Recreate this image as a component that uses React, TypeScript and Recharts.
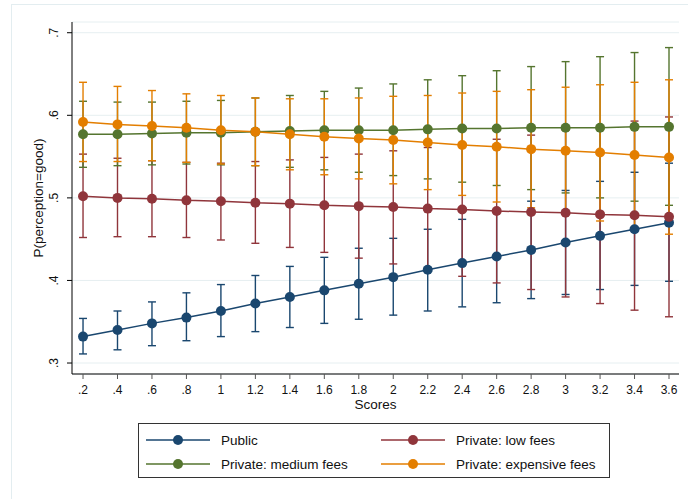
import { ComposedChart, Line, ErrorBar, XAxis, YAxis, CartesianGrid } from 'recharts'

const scores = [0.2, 0.4, 0.6, 0.8, 1, 1.2, 1.4, 1.6, 1.8, 2, 2.2, 2.4, 2.6, 2.8, 3, 3.2, 3.4, 3.6]
const yTicks = [0.3, 0.4, 0.5, 0.6, 0.7]

// Public
const publicMean = [0.332, 0.340, 0.348, 0.355, 0.363, 0.372, 0.380, 0.388, 0.396, 0.404, 0.413, 0.421, 0.429, 0.437, 0.446, 0.454, 0.462, 0.470]
const publicLow = [0.311, 0.316, 0.321, 0.327, 0.332, 0.338, 0.343, 0.348, 0.353, 0.358, 0.363, 0.368, 0.373, 0.378, 0.383, 0.389, 0.394, 0.399]
const publicHigh = [0.354, 0.363, 0.374, 0.385, 0.395, 0.406, 0.417, 0.428, 0.439, 0.451, 0.462, 0.474, 0.485, 0.496, 0.509, 0.520, 0.531, 0.542]

// Private: low fees
const lowMean = [0.502, 0.500, 0.499, 0.497, 0.496, 0.494, 0.493, 0.491, 0.490, 0.489, 0.487, 0.486, 0.484, 0.483, 0.482, 0.480, 0.479, 0.477]
const lowLow = [0.452, 0.453, 0.453, 0.452, 0.449, 0.445, 0.440, 0.434, 0.427, 0.420, 0.413, 0.405, 0.397, 0.389, 0.380, 0.372, 0.364, 0.356]
const lowHigh = [0.553, 0.548, 0.545, 0.543, 0.542, 0.544, 0.546, 0.549, 0.553, 0.557, 0.561, 0.566, 0.571, 0.576, 0.582, 0.587, 0.593, 0.598]

// Private: medium fees
const medMean = [0.577, 0.577, 0.578, 0.579, 0.579, 0.580, 0.581, 0.582, 0.582, 0.582, 0.583, 0.584, 0.584, 0.585, 0.585, 0.585, 0.586, 0.586]
const medLow = [0.537, 0.539, 0.540, 0.541, 0.540, 0.539, 0.537, 0.534, 0.531, 0.527, 0.523, 0.519, 0.515, 0.510, 0.506, 0.500, 0.496, 0.491]
const medHigh = [0.617, 0.616, 0.616, 0.617, 0.618, 0.621, 0.624, 0.629, 0.633, 0.638, 0.643, 0.648, 0.654, 0.659, 0.665, 0.671, 0.676, 0.682]

// Private: expensive fees
const expMean = [0.592, 0.589, 0.587, 0.585, 0.582, 0.580, 0.577, 0.574, 0.572, 0.570, 0.567, 0.564, 0.562, 0.559, 0.557, 0.555, 0.552, 0.549]
const expLow = [0.544, 0.544, 0.545, 0.543, 0.541, 0.539, 0.534, 0.528, 0.523, 0.517, 0.510, 0.503, 0.495, 0.488, 0.480, 0.472, 0.464, 0.456]
const expHigh = [0.640, 0.635, 0.630, 0.626, 0.624, 0.621, 0.620, 0.620, 0.621, 0.623, 0.624, 0.627, 0.629, 0.631, 0.634, 0.637, 0.640, 0.643]

const series = [
  { key: 'pub', name: 'Public', color: '#1a476f', mean: publicMean, low: publicLow, high: publicHigh },
  { key: 'low', name: 'Private: low fees', color: '#90353b', mean: lowMean, low: lowLow, high: lowHigh },
  { key: 'med', name: 'Private: medium fees', color: '#55752f', mean: medMean, low: medLow, high: medHigh },
  { key: 'exp', name: 'Private: expensive fees', color: '#e37e00', mean: expMean, low: expLow, high: expHigh },
]

const data = scores.map((score, i) => {
  const row: Record<string, any> = { score }
  series.forEach((s) => {
    row[s.key] = s.mean[i]
    row[s.key + 'Err'] = [s.mean[i] - s.low[i], s.high[i] - s.mean[i]]
  })
  return row
})

const FONT = '"Liberation Sans", Arial, sans-serif'

const fmt = (v: number) => {
  const s = String(Math.round(v * 10) / 10)
  return s.startsWith('0') ? s.slice(1) : s
}

const XTick = (props: any) => {
  const { x, y, payload } = props
  return (
    <text x={x} y={y + 15} textAnchor="middle" fontSize={12} fontFamily={FONT} fill="#111">
      {fmt(payload.value)}
    </text>
  )
}

const YTick = (props: any) => {
  const { x, y, payload } = props
  const bx = x - 9
  return (
    <text x={bx} y={y} transform={`rotate(-90, ${bx}, ${y})`} textAnchor="middle" fontSize={12} fontFamily={FONT} fill="#111">
      {fmt(payload.value)}
    </text>
  )
}

export default function App() {
  return (
    <div style={{ position: 'fixed', left: 0, top: 0, width: 688, height: 499, background: '#fff', overflow: 'hidden' }}>
      <div style={{ position: 'absolute', left: 11, top: 4, width: 700, height: 520, borderLeft: '1px solid #e3edf0', borderTop: '1px solid #e3edf0' }} />
      <ComposedChart width={688} height={499} data={data} margin={{ top: 22, right: 9, bottom: 85, left: 0 }}>
        <CartesianGrid vertical={false} stroke="#e6eff1" strokeWidth={1} />
        <XAxis
          dataKey="score"
          type="number"
          domain={[0.136, 3.658]}
          ticks={scores}
          allowDataOverflow
          height={40}
          tickSize={5}
          tickMargin={0}
          stroke="#000"
          tickLine={{ stroke: '#555' }}
          tick={<XTick />}
          label={{ value: 'Scores', position: 'insideBottom', offset: 5, fontSize: 13.5, fontFamily: FONT, fill: '#111' }}
        />
        <YAxis
          type="number"
          domain={[0.2867, 0.713]}
          ticks={yTicks}
          allowDataOverflow
          width={72}
          tickSize={5}
          tickMargin={0}
          stroke="#000"
          tick={<YTick />}
          label={{ value: 'P(perception=good)', angle: -90, position: 'insideLeft', offset: 38, fontSize: 13.5, fontFamily: FONT, fill: '#111', style: { textAnchor: 'middle' } }}
        />
        {series.map((s) => (
          <Line
            key={s.key + 'ci'}
            dataKey={s.key}
            stroke="none"
            dot={false}
            activeDot={false}
            isAnimationActive={false}
            legendType="none"
          >
            <ErrorBar dataKey={s.key + 'Err'} direction="y" width={4} strokeWidth={1.4} stroke={s.color} isAnimationActive={false} />
          </Line>
        ))}
        {series.map((s) => (
          <Line
            key={s.key + 'line'}
            dataKey={s.key}
            stroke={s.color}
            strokeWidth={1.5}
            dot={{ r: 5, fill: s.color, stroke: 'none' }}
            activeDot={false}
            isAnimationActive={false}
          />
        ))}
      </ComposedChart>
      <div style={{ position: 'absolute', left: 138, top: 423, width: 472, height: 55, border: '1px solid #333', boxSizing: 'border-box' }} />
      <svg width={688} height={499} style={{ position: 'absolute', left: 0, top: 0 }}>
        {series.map((s, i) => {
          const col = i % 2
          const row = Math.floor(i / 2)
          const lx = col === 0 ? 146 : 381
          const cy = row === 0 ? 440 : 464
          return (
            <g key={s.key}>
              <line x1={lx} x2={lx + 64} y1={cy} y2={cy} stroke={s.color} strokeWidth={1.5} />
              <circle cx={lx + 32} cy={cy} r={5} fill={s.color} />
              <text x={lx + 75} y={cy + 5} fontSize={13.5} fontFamily={FONT} fill="#111">
                {s.name}
              </text>
            </g>
          )
        })}
      </svg>
    </div>
  )
}
